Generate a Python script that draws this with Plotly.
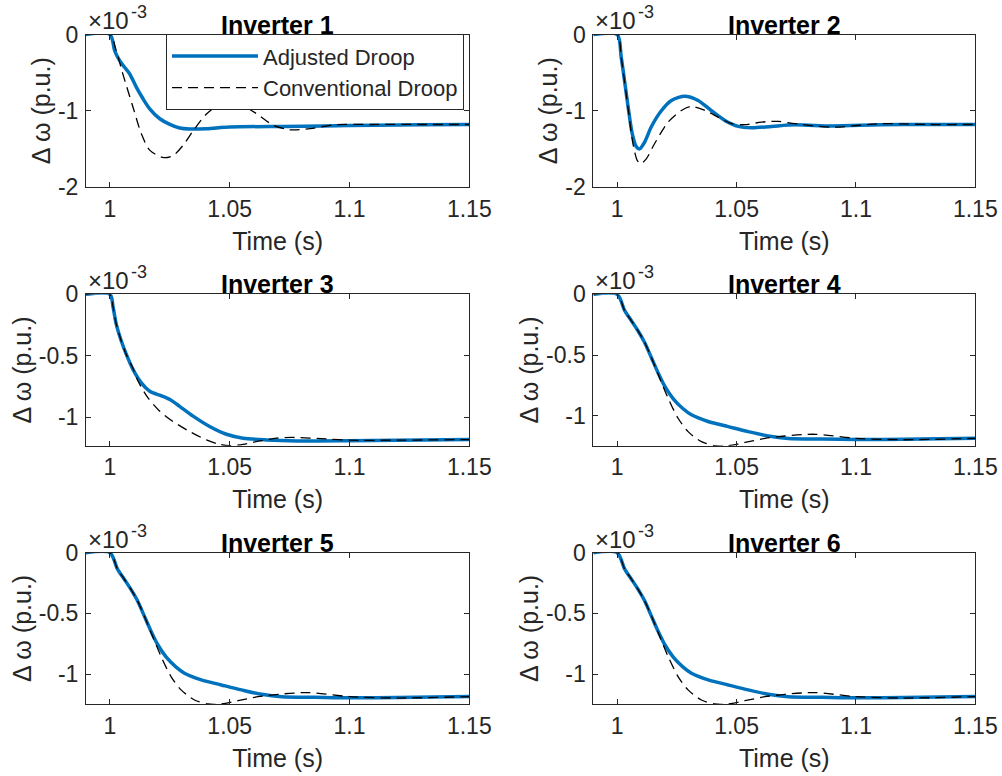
import plotly.graph_objects as go

# Frequency deviation responses, values in units of 1e-3 p.u.
SCALE = 1e-3

# Inverter 1
t1_adj = [0.99, 1.0, 1.00195, 1.004, 1.0061, 1.0082, 1.011, 1.0138, 1.0166, 1.0208, 1.025, 1.0291, 1.0333,
          1.0403, 1.05, 1.0724, 1.0891, 1.11, 1.13, 1.15]
w1_adj = [0, 0, -0.21, -0.34, -0.43, -0.515, -0.69, -0.843, -0.974, -1.105, -1.179, -1.227, -1.24,
          -1.236, -1.214, -1.205, -1.2, -1.19, -1.185, -1.18]
t1_conv = [0.99, 1.0, 1.0026, 1.0054, 1.0096, 1.0131, 1.0167, 1.0225, 1.0265, 1.0306, 1.0348, 1.0404,
           1.0475, 1.0543, 1.0613, 1.0682, 1.0752, 1.0836, 1.0932, 1.11, 1.13, 1.15]
w1_conv = [0, 0, -0.21, -0.52, -0.95, -1.30, -1.52, -1.615, -1.585, -1.45, -1.26, -1.04,
           -0.89, -0.917, -1.04, -1.19, -1.25, -1.235, -1.185, -1.18, -1.18, -1.18]

# Inverter 2
t2_adj = [0.99, 1.0, 1.0017, 1.0045, 1.0063, 1.008, 1.0094, 1.0115, 1.0143, 1.0185, 1.0227, 1.0283,
          1.0339, 1.0395, 1.0451, 1.0507, 1.0563, 1.0647, 1.0745, 1.09, 1.11, 1.13, 1.15]
w2_adj = [0, 0, -0.30, -0.93, -1.30, -1.47, -1.50, -1.41, -1.21, -1.0, -0.865, -0.81,
          -0.865, -1.0, -1.127, -1.205, -1.223, -1.205, -1.185, -1.20, -1.185, -1.18, -1.18]
t2_conv = [0.99, 1.0, 1.0017, 1.0045, 1.0066, 1.0084, 1.0098, 1.0122, 1.0157, 1.0213, 1.0269, 1.0311,
           1.0367, 1.0423, 1.0479, 1.0535, 1.0605, 1.0675, 1.0745, 1.09, 1.11, 1.13, 1.15]
w2_conv = [0, 0, -0.30, -0.95, -1.43, -1.65, -1.695, -1.63, -1.43, -1.15, -0.996, -0.943,
           -0.996, -1.083, -1.17, -1.183, -1.148, -1.14, -1.17, -1.215, -1.17, -1.18, -1.18]

# Inverter 3
t3_adj = [0.99, 1.0, 1.0013, 1.0026, 1.0047, 1.0068, 1.0096, 1.0131, 1.0166, 1.0208, 1.025, 1.0291,
          1.0347, 1.0416, 1.0486, 1.0556, 1.0653, 1.0779, 1.1, 1.15]
w3_adj = [0, 0, -0.104, -0.24, -0.377, -0.486, -0.61, -0.72, -0.787, -0.82, -0.855, -0.91,
          -0.99, -1.074, -1.137, -1.169, -1.183, -1.191, -1.19, -1.18]
t3_conv = [0.99, 1.0, 1.0013, 1.0026, 1.0047, 1.0068, 1.0096, 1.0117, 1.0159, 1.0208, 1.0263, 1.0333,
           1.0403, 1.0458, 1.05, 1.0556, 1.0625, 1.0695, 1.076, 1.09, 1.1, 1.12, 1.15]
w3_conv = [0, 0, -0.104, -0.24, -0.377, -0.49, -0.60, -0.705, -0.842, -0.95, -1.033, -1.115,
           -1.183, -1.219, -1.23, -1.219, -1.191, -1.169, -1.163, -1.175, -1.185, -1.185, -1.18]

# Inverter 4
t4_adj = [0.99, 1.0, 1.0031, 1.0059, 1.0087, 1.0115, 1.0143, 1.0171, 1.0199, 1.0235, 1.0275, 1.0311,
          1.0381, 1.0465, 1.0549, 1.0633, 1.0717, 1.0857, 1.1, 1.12, 1.15]
w4_adj = [0, 0, -0.133, -0.216, -0.30, -0.396, -0.52, -0.645, -0.756, -0.86, -0.94, -0.992,
          -1.047, -1.089, -1.13, -1.166, -1.186, -1.191, -1.195, -1.193, -1.185]
t4_conv = [0.99, 1.0, 1.0031, 1.0059, 1.0087, 1.0115, 1.0143, 1.0171, 1.0213, 1.0255, 1.0297, 1.0353,
           1.0409, 1.0465, 1.0535, 1.0619, 1.0703, 1.0829, 1.1, 1.12, 1.15]
w4_conv = [0, 0, -0.133, -0.216, -0.30, -0.396, -0.52, -0.655, -0.853, -1.02, -1.13, -1.213,
           -1.246, -1.246, -1.219, -1.186, -1.166, -1.152, -1.185, -1.197, -1.185]

# Inverter 5
t5_adj = [0.99, 1.0, 1.0031, 1.0059, 1.0087, 1.0115, 1.0143, 1.0171, 1.0199, 1.0235, 1.0275, 1.0311,
          1.0381, 1.0465, 1.0549, 1.0633, 1.0717, 1.0857, 1.1, 1.12, 1.15]
w5_adj = [0, 0, -0.133, -0.216, -0.30, -0.396, -0.52, -0.645, -0.756, -0.86, -0.94, -0.992,
          -1.047, -1.089, -1.13, -1.166, -1.186, -1.191, -1.195, -1.193, -1.185]
t5_conv = [0.99, 1.0, 1.0031, 1.0059, 1.0087, 1.0115, 1.0143, 1.0171, 1.0213, 1.0255, 1.0297, 1.0353,
           1.0409, 1.0465, 1.0535, 1.0619, 1.0703, 1.0829, 1.1, 1.12, 1.15]
w5_conv = [0, 0, -0.133, -0.216, -0.30, -0.396, -0.52, -0.655, -0.853, -1.02, -1.13, -1.213,
           -1.246, -1.246, -1.219, -1.186, -1.166, -1.152, -1.185, -1.197, -1.185]

# Inverter 6
t6_adj = [0.99, 1.0, 1.0031, 1.0059, 1.0087, 1.0115, 1.0143, 1.0171, 1.0199, 1.0235, 1.0275, 1.0311,
          1.0381, 1.0465, 1.0549, 1.0633, 1.0717, 1.0857, 1.1, 1.12, 1.15]
w6_adj = [0, 0, -0.133, -0.216, -0.30, -0.396, -0.52, -0.645, -0.756, -0.86, -0.94, -0.992,
          -1.047, -1.089, -1.13, -1.166, -1.186, -1.191, -1.195, -1.193, -1.185]
t6_conv = [0.99, 1.0, 1.0031, 1.0059, 1.0087, 1.0115, 1.0143, 1.0171, 1.0213, 1.0255, 1.0297, 1.0353,
           1.0409, 1.0465, 1.0535, 1.0619, 1.0703, 1.0829, 1.1, 1.12, 1.15]
w6_conv = [0, 0, -0.133, -0.216, -0.30, -0.396, -0.52, -0.655, -0.853, -1.02, -1.13, -1.213,
           -1.246, -1.246, -1.219, -1.186, -1.166, -1.152, -1.185, -1.197, -1.185]

titles = ["Inverter 1", "Inverter 2", "Inverter 3", "Inverter 4", "Inverter 5", "Inverter 6"]
x_ticks = [1, 1.05, 1.1, 1.15]
x_ticktext = ["1", "1.05", "1.1", "1.15"]
y_ticks_wide = [-2, -1, 0]
y_ticks_narrow = [-1, -0.5, 0]

panels = [
    (t1_adj, w1_adj, t1_conv, w1_conv),
    (t2_adj, w2_adj, t2_conv, w2_conv),
    (t3_adj, w3_adj, t3_conv, w3_conv),
    (t4_adj, w4_adj, t4_conv, w4_conv),
    (t5_adj, w5_adj, t5_conv, w5_conv),
    (t6_adj, w6_adj, t6_conv, w6_conv),
]

W, H = 1002, 776
BLUE = "#0072BD"
AXC = "#262626"
FONT = "Liberation Sans, Arial, Helvetica, sans-serif"

# subplot boxes in pixels (left, right) and (top, bottom)
col_px = [(86.0, 469.3), (593.3, 975.3)]
row_px = [(34.5, 187.0), (294.3, 445.7), (552.7, 704.0)]

fig = go.Figure()
layout = dict(
    width=W, height=H, autosize=False,
    margin=dict(l=0, r=0, t=0, b=0, autoexpand=False),
    paper_bgcolor="white", plot_bgcolor="white",
    font=dict(family=FONT, color=AXC),
    showlegend=True,
    legend=dict(
        x=166 / W, y=1 - 34.3 / H, xanchor="left", yanchor="top",
        bgcolor="white", bordercolor=AXC, borderwidth=1,
        font=dict(size=22, color=AXC, family=FONT),
        itemwidth=86, tracegroupgap=0,
    ),
)
annotations = []

for i, (ta, wa, tc, wc) in enumerate(panels):
    r, c = divmod(i, 2)
    n = i + 1
    xname = "x" if n == 1 else f"x{n}"
    yname = "y" if n == 1 else f"y{n}"
    fig.add_trace(go.Scatter(
        x=ta, y=[v * SCALE for v in wa], xaxis=xname, yaxis=yname, mode="lines",
        line=dict(color=BLUE, width=3.5, shape="spline", smoothing=0.8),
        name="Adjusted Droop", showlegend=(i == 0),
    ))
    fig.add_trace(go.Scatter(
        x=tc, y=[v * SCALE for v in wc], xaxis=xname, yaxis=yname, mode="lines",
        line=dict(color="black", width=1.3, dash="10px,6px", shape="spline", smoothing=0.8),
        name="Conventional Droop", showlegend=(i == 0),
    ))

    x0, x1 = col_px[c]
    ytop, ybot = row_px[r]
    if r == 0:
        yticks = y_ticks_wide
        yrange = [-2 * SCALE, 0]
    else:
        yticks = y_ticks_narrow
        yrange = [min(min(wa), min(wc)) * SCALE, 0]

    common = dict(
        showline=True, linecolor=AXC, linewidth=1, mirror="allticks",
        ticks="inside", ticklen=5, tickwidth=1, tickcolor=AXC,
        showgrid=False, zeroline=False, automargin=False,
        tickfont=dict(size=23, color=AXC, family=FONT),
    )
    layout["xaxis" + ("" if n == 1 else str(n))] = dict(
        common, domain=[x0 / W, x1 / W], anchor=yname, range=[0.99, 1.15],
        tickvals=x_ticks, ticktext=x_ticktext, ticklabelstandoff=1,
        title=dict(text="Time (s)", font=dict(size=25, color=AXC, family=FONT), standoff=11),
    )
    layout["yaxis" + ("" if n == 1 else str(n))] = dict(
        common, domain=[1 - ybot / H, 1 - ytop / H], anchor=xname, range=yrange,
        tickvals=[v * SCALE for v in yticks], ticktext=["%g" % v for v in yticks],
        ticklabelstandoff=2,
        title=dict(text="Δ ω (p.u.)", font=dict(size=25, color=AXC, family=FONT), standoff=0),
    )
    # panel title
    annotations.append(dict(
        text=titles[i], xref="paper", yref="paper",
        x=(x0 + x1) / 2 / W, y=1 - (ytop - 10) / H, xanchor="center", yanchor="middle",
        showarrow=False, font=dict(size=25, color="black", family=FONT, weight="bold"),
    ))
    # axis multiplier "×10" with its exponent
    annotations.append(dict(
        text="×10", xref="paper", yref="paper",
        x=x0 / W, y=1 - ytop / H, xanchor="left", yanchor="bottom",
        showarrow=False, font=dict(size=24, color=AXC, family=FONT), xshift=0, yshift=-2,
    ))
    annotations.append(dict(
        text="-3", xref="paper", yref="paper",
        x=x0 / W, y=1 - ytop / H, xanchor="left", yanchor="bottom",
        showarrow=False, font=dict(size=18, color=AXC, family=FONT), xshift=43, yshift=10,
    ))

layout["annotations"] = annotations
fig.update_layout(**layout)
fig.write_html("out.html")
